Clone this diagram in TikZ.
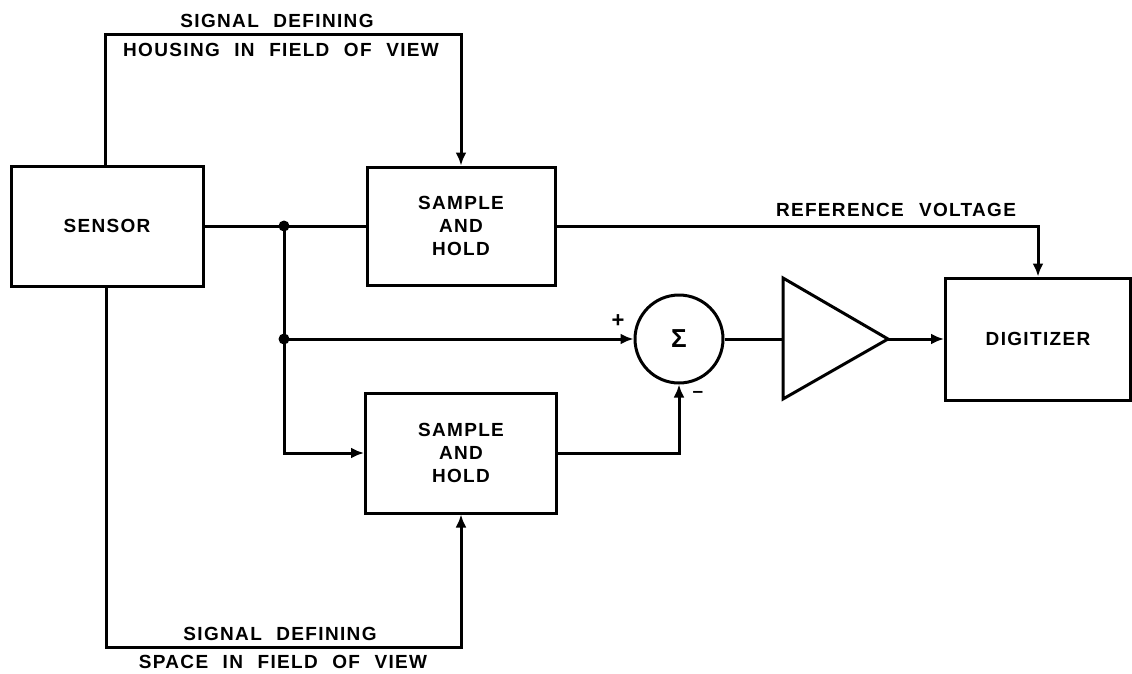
\documentclass[tikz,border=0pt]{standalone}
\usepackage{fontspec}
\setmainfont{Liberation Sans}[LetterSpace=7,WordSpace=2.2]
\usetikzlibrary{arrows.meta,positioning}
\begin{document}
\begin{tikzpicture}[x=1pt,y=-1pt,
  every node/.style={font=\fontsize{19}{23}\selectfont\bfseries},
  blk/.style={draw,line width=3pt,inner sep=0pt,align=center},
  wire/.style={line width=3pt},
  arr/.style={wire,-{Latex[length=13pt,width=11pt]}},
  jdot/.style={circle,fill,inner sep=0pt,minimum size=11pt},
  lbl/.style={inner sep=0pt}]
\useasboundingbox (0,0) rectangle (1132,673);
\node[blk,minimum width=192pt,minimum height=120pt] (sensor) at (107,226) {SENSOR};
\node[blk,minimum width=188pt,minimum height=118pt] (sh1) at (461,226) {SAMPLE\\AND\\HOLD};
\node[blk,minimum width=191pt,minimum height=120pt] (sh2) at (461,453) {SAMPLE\\AND\\HOLD};
\node[blk,circle,minimum size=88pt,font=\fontsize{26}{26}\selectfont\bfseries] (sum) at (679,339) {Σ};
\node[blk,minimum width=185pt,minimum height=122pt] (dig) at (1038,339) {DIGITIZER};
\coordinate (ampin) at (783,339);
\coordinate (ampout) at (888,339);
\draw[wire,line join=miter] (783,278) -- (ampout) -- (783,399) -- cycle;
\coordinate (j1) at (284,226);
\coordinate (j2) at (284,339);
\coordinate (topc) at (461,34);
\coordinate (botc) at (461,647);
% connectors
\draw[wire] (sensor.east) -- (j1) -- (sh1.west);
\draw[wire] (j1) -- (j2);
\draw[arr] (j2) |- (sh2.west);
\draw[arr] (j2) -- (sum.west);
\draw[arr] (sh1.east) -| (dig.north);
\draw[arr] (sh2.east) -| (sum.south);
\draw[wire] (sum.east) -- (ampin);
\draw[arr] (ampout) -- (dig.west);
\draw[arr] ([xshift=-2pt]sensor.north) |- (topc) -- (sh1.north);
\draw[arr] ([xshift=-1pt]sensor.south) |- (botc) -- (sh2.south);
\node[jdot] (d1) at (j1) {};
\node[jdot] (d2) at (j2) {};
% labels
\node[lbl] (t1) at (277,21) {SIGNAL DEFINING};
\node[lbl] (t2) at (281,50) {HOUSING IN FIELD OF VIEW};
\node[lbl] (t3) at (896,210) {REFERENCE\hspace{0.8em}VOLTAGE};
\node[lbl] (t4) at (280,634) {SIGNAL DEFINING};
\node[lbl] (t5) at (283,662) {SPACE IN FIELD OF VIEW};
\node[lbl,font=\fontsize{22}{22}\selectfont\bfseries] (plus) at (618,321) {+};
\node[lbl] (minus) at (698,394) {–};
\end{tikzpicture}
\end{document}
